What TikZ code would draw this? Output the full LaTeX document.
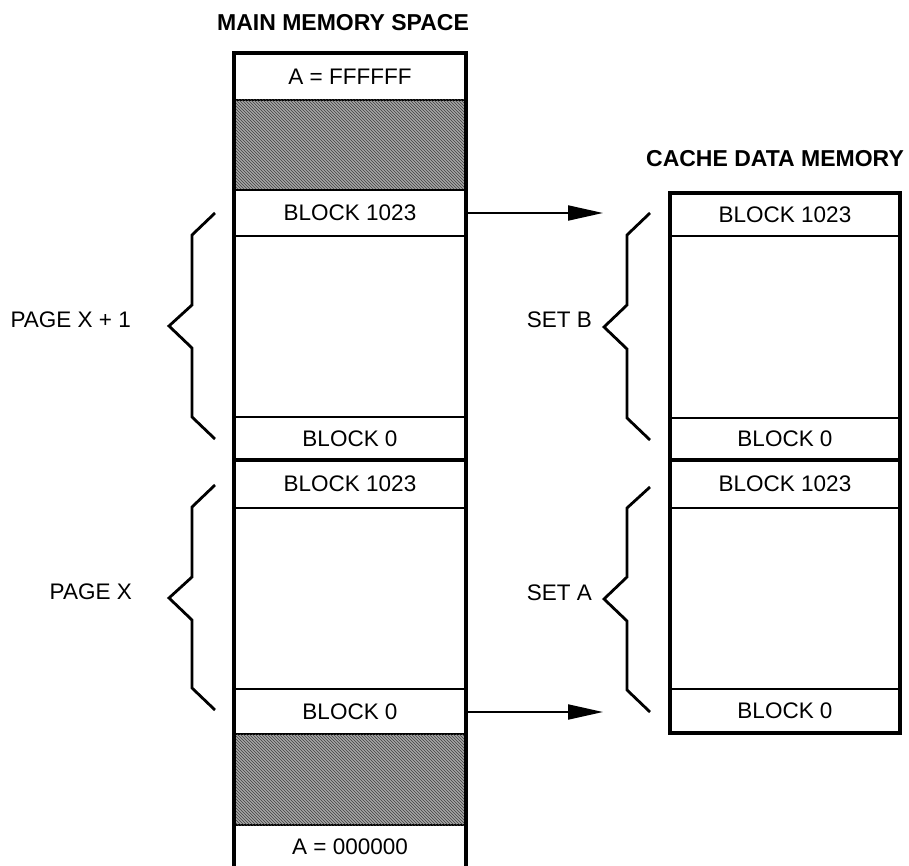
\documentclass[tikz,border=0pt]{standalone}
\usepackage{fontspec}
\setmainfont{Liberation Sans}
\usetikzlibrary{arrows.meta,patterns}
\begin{document}
\begin{tikzpicture}[x=1pt,y=-1pt,
  lbl/.style={font=\fontsize{22.5}{26}\selectfont, inner sep=0pt},
  ttl/.style={font=\fontsize{23}{26}\selectfont\bfseries, inner sep=0pt},
  mrow/.style={draw, line width=2pt, minimum width=232pt, minimum height=#1, inner sep=0pt, font=\fontsize{22.5}{26}\selectfont},
  crow/.style={draw, line width=2pt, minimum width=230pt, minimum height=#1, inner sep=0pt, font=\fontsize{22.5}{26}\selectfont},
  shade/.style={draw, line width=2pt, minimum width=232pt, minimum height=#1, inner sep=0pt, fill=black!35, postaction={pattern=north west lines, pattern color=black!75}},
  outline/.style={line width=4pt},
  brace/.style={line width=2.8pt, line join=miter},
  mapto/.style={line width=2pt, -{Triangle[length=35pt,width=15pt]}}
]
\useasboundingbox (0,0) rectangle (909,866);

% titles
\node[ttl] (tmain) at (343,23) {MAIN MEMORY SPACE};
\node[ttl] (tcache) at (775,159) {CACHE DATA MEMORY};

% main memory column
\node[mrow=47pt] (atop) at (350,76.5) {A = FFFFFF};
\node[shade=90pt] (sh1) at (350,145) {};
\node[mrow=46pt] (m1023b) at (350,213) {BLOCK 1023};
\node[mrow=181pt] (me1) at (350,326.5) {};
\node[mrow=43pt] (m0b) at (350,438.5) {BLOCK 0};
\node[mrow=48pt] (m1023a) at (350,484) {BLOCK 1023};
\node[mrow=181pt] (me2) at (350,598.5) {};
\node[mrow=45pt] (m0a) at (350,711.5) {BLOCK 0};
\node[shade=91pt] (sh2) at (350,779.5) {};
\node[lbl] (abot) at (350,847) {A = 000000};
\draw[outline] (234,866) |- (466,53) -- (466,866);
\draw[line width=4pt] (234,460) -- (466,460);

% cache column
\node[crow=43pt] (c1023b) at (785,214.5) {BLOCK 1023};
\node[crow=182pt] (ce1) at (785,327) {};
\node[crow=42pt] (c0b) at (785,439) {BLOCK 0};
\node[crow=48pt] (c1023a) at (785,484) {BLOCK 1023};
\node[crow=181pt] (ce2) at (785,598.5) {};
\node[crow=44pt] (c0a) at (785,711) {BLOCK 0};
\draw[outline] (670,193) rectangle (900,733);
\draw[line width=4pt] (670,460) -- (900,460);

% arrows
\coordinate (ar1) at (603,213);
\coordinate (ar2) at (603,712);
\draw[mapto] (m1023b.east) -- (ar1);
\draw[mapto] (m0a.east |- ar2) -- (ar2);

% braces
\draw[brace] (215,213) -- (192,235) -- (192,305) -- (169,326) -- (192,348) -- (192,417) -- (215,439);
\draw[brace] (215,485) -- (192,507) -- (192,577) -- (169,598) -- (192,620) -- (192,688) -- (215,710);
\draw[brace] (650,213) -- (627,235) -- (627,305) -- (604,327) -- (627,349) -- (627,418) -- (650,440);
\draw[brace] (650,487) -- (627,508) -- (627,577) -- (604,599) -- (627,621) -- (627,690) -- (650,712);

% labels
\node[lbl, anchor=east] (lpx1) at (131,320) {PAGE X + 1};
\node[lbl, anchor=east] (lpx) at (132,592) {PAGE X};
\node[lbl, anchor=east] (lsb) at (592,320) {SET B};
\node[lbl, anchor=east] (lsa) at (592,593) {SET A};
\end{tikzpicture}
\end{document}
